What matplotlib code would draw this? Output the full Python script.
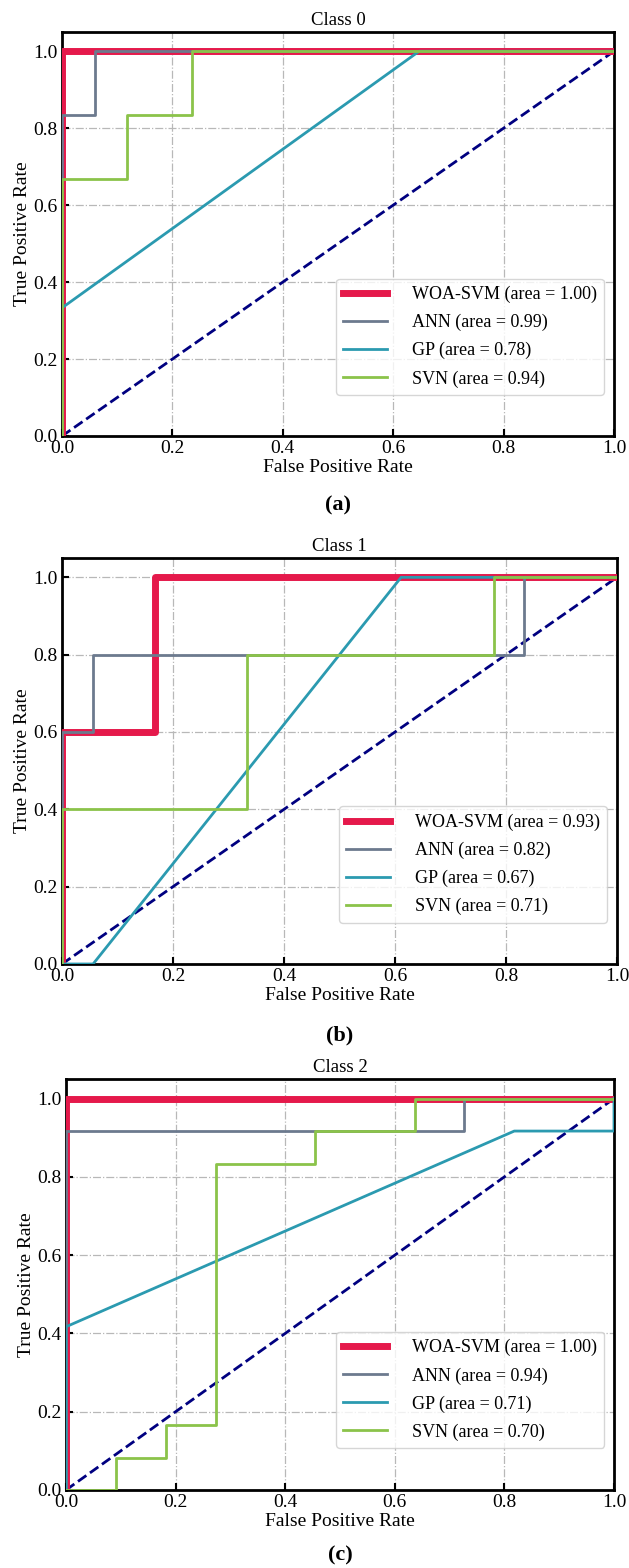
import matplotlib
matplotlib.use("Agg")
import matplotlib.pyplot as plt

plt.rcParams['font.family'] = ['Liberation Serif', 'DejaVu Serif']
plt.rcParams['mathtext.fontset'] = 'stix'

models = ["WOA-SVM", "ANN", "GP", "SVN"]
colors = ["#E5194B", "#6C7A8E", "#2B9AB0", "#8BC34A"]
widths = [5, 2, 2, 2]

# Class 0
c0_woa_fpr = [0, 0, 1];              c0_woa_tpr = [0, 1, 1]
c0_ann_fpr = [0, 0, 0.059, 0.059, 1]; c0_ann_tpr = [0, 0.833, 0.833, 1, 1]
c0_gp_fpr = [0, 0, 0.647, 1];        c0_gp_tpr = [0, 0.333, 1, 1]
c0_svn_fpr = [0, 0, 0.118, 0.118, 0.235, 0.235, 1]
c0_svn_tpr = [0, 0.667, 0.667, 0.833, 0.833, 1, 1]
c0_auc = [1.00, 0.99, 0.78, 0.94]

# Class 1
c1_woa_fpr = [0, 0, 0.167, 0.167, 1]; c1_woa_tpr = [0, 0.6, 0.6, 1, 1]
c1_ann_fpr = [0, 0, 0.056, 0.056, 0.833, 0.833, 1]
c1_ann_tpr = [0, 0.6, 0.6, 0.8, 0.8, 1, 1]
c1_gp_fpr = [0, 0.056, 0.611, 1];    c1_gp_tpr = [0, 0, 1, 1]
c1_svn_fpr = [0, 0, 0.333, 0.333, 0.778, 0.778, 1]
c1_svn_tpr = [0, 0.4, 0.4, 0.8, 0.8, 1, 1]
c1_auc = [0.93, 0.82, 0.67, 0.71]

# Class 2
c2_woa_fpr = [0, 0, 1];              c2_woa_tpr = [0, 1, 1]
c2_ann_fpr = [0, 0, 0.727, 0.727, 1]; c2_ann_tpr = [0, 0.917, 0.917, 1, 1]
c2_gp_fpr = [0, 0, 0.818, 1, 1];     c2_gp_tpr = [0, 0.417, 0.917, 0.917, 1]
c2_svn_fpr = [0, 0.091, 0.091, 0.182, 0.182, 0.273, 0.273, 0.455, 0.455, 0.636, 0.636, 1]
c2_svn_tpr = [0, 0, 0.083, 0.083, 0.167, 0.167, 0.833, 0.833, 0.917, 0.917, 1, 1]
c2_auc = [1.00, 0.94, 0.71, 0.70]

panels = [
    ("Class 0", [(c0_woa_fpr, c0_woa_tpr), (c0_ann_fpr, c0_ann_tpr), (c0_gp_fpr, c0_gp_tpr), (c0_svn_fpr, c0_svn_tpr)], c0_auc, "(a)"),
    ("Class 1", [(c1_woa_fpr, c1_woa_tpr), (c1_ann_fpr, c1_ann_tpr), (c1_gp_fpr, c1_gp_tpr), (c1_svn_fpr, c1_svn_tpr)], c1_auc, "(b)"),
    ("Class 2", [(c2_woa_fpr, c2_woa_tpr), (c2_ann_fpr, c2_ann_tpr), (c2_gp_fpr, c2_gp_tpr), (c2_svn_fpr, c2_svn_tpr)], c2_auc, "(c)"),
]

W, H = 629, 1568
fig = plt.figure(figsize=(W / 100, H / 100), dpi=100)

# axes boxes in pixels: left, right, top, bottom
boxes = [(62, 614, 32, 436), (62, 617, 558, 964), (66, 614, 1079, 1490)]
label_y = [505, 1035, 1555]

ticks = [0.0, 0.2, 0.4, 0.6, 0.8, 1.0]
for (title, curves, aucs, lab), (l, r, t, b), ly in zip(panels, boxes, label_y):
    ax = fig.add_axes([l / W, 1 - b / H, (r - l) / W, (b - t) / H])
    for name, (fx, ty), auc, col, lw in zip(models, curves, aucs, colors, widths):
        ax.plot(fx, ty, color=col, lw=lw, label=f"{name} (area = {auc:.2f})", zorder=3)
    ax.plot([0, 1], [0, 1], color="navy", lw=2, ls="--", zorder=2)
    ax.set_xlim(0, 1)
    ax.set_ylim(0, 1.05)
    ax.set_xticks(ticks)
    ax.set_yticks(ticks)
    ax.set_xticklabels([f"{v:.1f}" for v in ticks])
    ax.set_yticklabels([f"{v:.1f}" for v in ticks])
    ax.tick_params(direction="in", length=5, width=1.5, labelsize=14, pad=3)
    for s in ax.spines.values():
        s.set_linewidth(2)
    ax.grid(True, ls="-.", color="#b8b8b8", lw=0.9)
    ax.set_title(title, fontsize=13.5, pad=5)
    ax.set_xlabel("False Positive Rate", fontsize=14, labelpad=1)
    ax.set_ylabel("True Positive Rate", fontsize=14, labelpad=2)
    ax.legend(loc="lower right", bbox_to_anchor=(0.982, 0.102), borderaxespad=0,
              fontsize=13, handlelength=2.4, handletextpad=1.4,
              labelspacing=0.6, borderpad=0.4,
              framealpha=0.8, edgecolor="#cccccc")
    fig.text((l + r) / 2 / W, 1 - ly / H, lab, ha="center", va="center",
             fontsize=16, fontweight="bold")

fig.savefig("out.png", dpi=100)
